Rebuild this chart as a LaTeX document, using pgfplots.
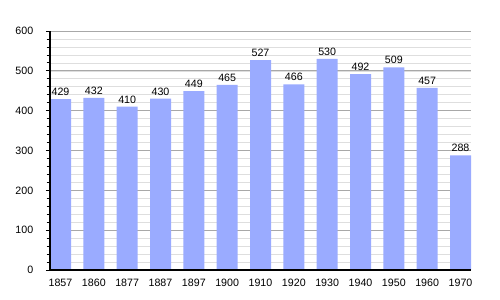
\documentclass[border=0pt]{standalone}
\usepackage{pgfplots}
\pgfplotsset{compat=1.18}
\usepackage{fontspec}
\setmainfont{Liberation Sans}
\definecolor{barblue}{HTML}{9AABFF}
\definecolor{majgrid}{HTML}{A8A8A8}
\definecolor{mingrid}{HTML}{DEDEDE}
\begin{document}
\begin{tikzpicture}[x=0.75pt,y=0.75pt]
\begin{axis}[
  at={(0,0)}, anchor=south west,
  scale only axis, width=315.75pt, height=179.25pt,
  ymin=0, ymax=600, xmin=-0.315, xmax=12.315,
  axis lines=left, axis line style={-, black, line width=0.8pt},
  ytick={0,100,...,600}, minor ytick={20,40,...,580},
  ymajorgrids, yminorgrids,
  major grid style={majgrid, line width=0.6pt},
  minor grid style={mingrid, line width=0.5pt},
  tick align=outside, major tick length=3pt, minor tick length=2.5pt,
  ytick style={black, line width=0.6pt},
  xtick=data, xtick style={draw=none},
  xticklabels={1857,1860,1877,1887,1897,1900,1910,1920,1930,1940,1950,1960,1970},
  /pgf/number format/assume math mode=true,
  tick label style={font=\fontsize{8}{9.6}\selectfont},
  yticklabel style={xshift=-6pt},
  nodes near coords,
  every node near coord/.append style={font=\fontsize{8}{9.6}\selectfont, yshift=-1pt},
]
\addplot[ybar, bar width=15.75pt, fill=barblue, draw=none] coordinates {
(0,429) (1,432) (2,410) (3,430) (4,449) (5,465) (6,527) (7,466) (8,530) (9,492) (10,509) (11,457) (12,288)
};
\draw[black, line width=0.8pt] (rel axis cs:0,1) -- (rel axis cs:0,0) -- (rel axis cs:1,0);
\end{axis}
\pgfresetboundingbox
\path[use as bounding box] (-50,-30) rectangle (450,270);
\end{tikzpicture}
\end{document}
